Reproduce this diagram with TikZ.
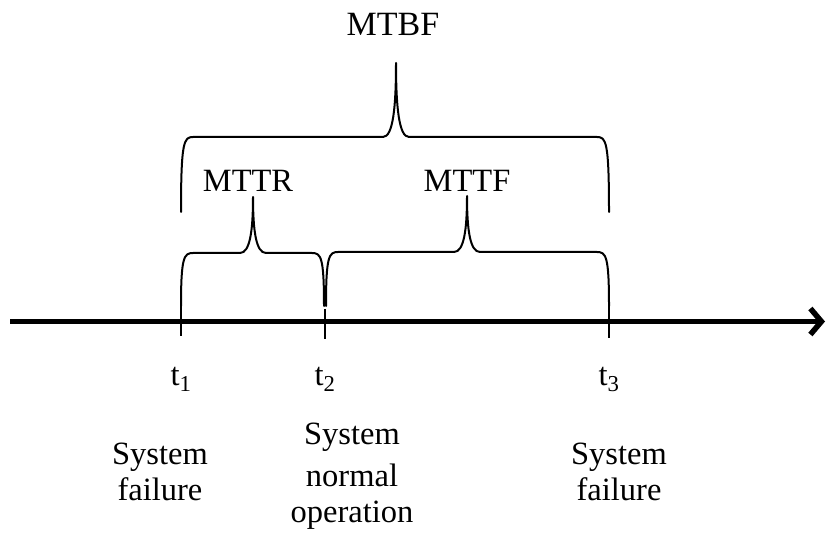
\documentclass[tikz,border=0pt]{standalone}
\usepackage{fontspec}
\setmainfont{Liberation Serif}
\usetikzlibrary{arrows.meta}

% Horizontal curly bracket opening downwards:
% #1,#2 = left/right x, #3 = y of the free ends, #4 = y of the flat part,
% #5 = x of the point, #6 = y of the point
\newcommand\overbracket[6]{%
  \draw[bracket]
    (#1,#3) .. controls ({#1},{#4+4}) and ({#1+3},{#4}) .. ({#1+12},{#4})
    -- ({#5-13},{#4})
    .. controls ({#5-3},{#4}) and ({#5},{#4-0.4*(#4-#6)}) .. (#5,#6)
    .. controls ({#5},{#4-0.4*(#4-#6)}) and ({#5+3},{#4}) .. ({#5+13},{#4})
    -- ({#2-12},{#4})
    .. controls ({#2-3},{#4}) and ({#2},{#4+4}) .. (#2,#3);}

\begin{document}
\begin{tikzpicture}[x=1pt,y=-1pt,
  lbl/.style={font=\fontsize{32.5}{36}\selectfont, inner sep=0pt, anchor=base},
  blk/.style={font=\fontsize{32.5}{35.5}\selectfont, inner sep=0pt, align=center, anchor=base},
  axisline/.style={line width=5.5pt, -{Straight Barb[length=11pt,width=26pt]}},
  tickmark/.style={line width=2.5pt},
  bracket/.style={line width=2pt, line join=round, line cap=round}
]
\useasboundingbox (0,0) rectangle (827,534);

% time axis
\coordinate (a0) at (10,321.5);
\coordinate (a1) at (825,321.5);
\draw[axisline] (a0) -- (a1);

% tick marks
\coordinate (k1top) at (181,306); \coordinate (k1bot) at (181,336);
\coordinate (k2top) at (325,309); \coordinate (k2bot) at (325,339);
\coordinate (k3top) at (609,306); \coordinate (k3bot) at (609,338);
\draw[tickmark] (k1top) -- (k1bot);
\draw[tickmark] (k2top) -- (k2bot);
\draw[tickmark] (k3top) -- (k3bot);

% brackets
\overbracket{181}{324}{306}{253}{253}{197}
\overbracket{326}{609}{306}{252}{467}{196}
\overbracket{181}{609}{212}{137}{396}{63}

% interval labels
\node[lbl, font=\fontsize{34}{38}\selectfont] (mtbf) at (393,36) {MTBF};
\node[lbl] (mttr) at (248,192) {MTTR};
\node[lbl] (mttf) at (467,192) {MTTF};

% time instants
\node[lbl] (t1) at (181,385) {t\textsubscript{1}};
\node[lbl] (t2) at (325,385) {t\textsubscript{2}};
\node[lbl] (t3) at (609,385) {t\textsubscript{3}};

% events (base anchor sits on the last line)
\node[blk] (ev1) at (160,500) {System\\failure};
\node[blk] (ev2) at (352,522) {System\\[7pt]normal\\operation};
\node[blk] (ev3) at (619,500) {System\\failure};
\end{tikzpicture}
\end{document}
